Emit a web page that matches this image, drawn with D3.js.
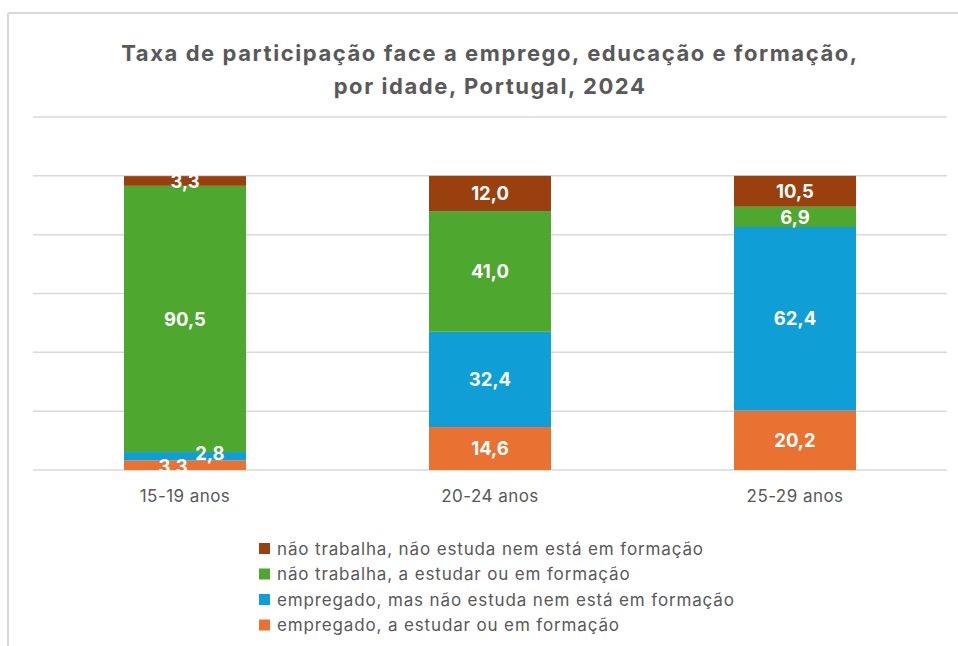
<!DOCTYPE html>
<html>
<head>
<meta charset="utf-8">
<script src="https://cdn.jsdelivr.net/npm/d3@7"></script>
<style>
  html, body { margin: 0; padding: 0; background: #fff; }
  svg { display: block; font-family: Inter, "Open Sans", "Liberation Sans", sans-serif; }
</style>
</head>
<body>
<svg id="chart" width="958" height="646"></svg>
<script>
const categories = ["15-19 anos", "20-24 anos", "25-29 anos"];
const seriesNames = [
  "empregado, a estudar ou em formação",
  "empregado, mas não estuda nem está em formação",
  "não trabalha, a estudar ou em formação",
  "não trabalha, não estuda nem está em formação"
];
const empregadoEstudar = [3.3, 14.6, 20.2];
const empregadoNaoEstuda = [2.8, 32.4, 62.4];
const naoTrabalhaEstudar = [90.5, 41.0, 6.9];
const nemNem = [3.3, 12.0, 10.5];
const yTicks = [0, 20, 40, 60, 80, 100, 120];
const titleLines = ["Taxa de participação face a emprego, educação e formação,", "por idade, Portugal, 2024"];

const seriesValues = [empregadoEstudar, empregadoNaoEstuda, naoTrabalhaEstudar, nemNem];
const colors = ["#E97132", "#0F9ED5", "#4EA72E", "#9A3F0E"];
const textGray = "#595959";

const svg = d3.select("#chart");

// stretch text with letter-spacing so it takes the width of the original's wider typeface
function spacingFor(textSel, target) {
  const node = textSel.node();
  const n = node.getNumberOfChars();
  const w = node.getComputedTextLength();
  return (target - w) / Math.max(1, n - 1);
}

// outer frame (partially visible)
svg.append("line").attr("x1", 8).attr("x2", 958).attr("y1", 13).attr("y2", 13)
  .attr("stroke", "#d9d9d9").attr("stroke-width", 2);
svg.append("line").attr("x1", 8).attr("x2", 8).attr("y1", 13).attr("y2", 646)
  .attr("stroke", "#d9d9d9").attr("stroke-width", 2);

// title
const titleTexts = titleLines.map((t, i) =>
  svg.append("text")
    .attr("x", 490).attr("y", 61 + i * 33)
    .attr("text-anchor", "middle")
    .attr("font-size", 22)
    .attr("font-weight", 700)
    .attr("fill", textGray)
    .text(t)
);
const titleLs = spacingFor(titleTexts[0], 736);
titleTexts.forEach(t => t.attr("letter-spacing", titleLs));

const x = d3.scaleBand().domain(categories).range([32.5, 947.5]).padding(0);
const y = d3.scaleLinear().domain([0, 120]).range([470, 117]);
const barW = x.bandwidth() * 0.4;

// gridlines
svg.append("g").selectAll("line").data(yTicks).join("line")
  .attr("x1", 33).attr("x2", 947)
  .attr("y1", d => y(d)).attr("y2", d => y(d))
  .attr("stroke", "#d9d9d9").attr("stroke-width", 1.5);

// stack
const table = categories.map((c, i) => {
  const o = { cat: c };
  seriesNames.forEach((s, k) => o[s] = seriesValues[k][i]);
  return o;
});
const stacked = d3.stack().keys(seriesNames)(table);

const bars = svg.append("g");
stacked.forEach((layer, k) => {
  bars.append("g").attr("fill", colors[k]).selectAll("rect").data(layer).join("rect")
    .attr("x", d => x(d.data.cat) + (x.bandwidth() - barW) / 2)
    .attr("width", barW)
    .attr("y", d => y(d[1]))
    .attr("height", d => y(d[0]) - y(d[1]));
});

// x axis labels
const xAxis = d3.axisBottom(x).tickSize(0).tickPadding(0);
const xg = svg.append("g").attr("transform", "translate(0,490)").call(xAxis);
xg.select(".domain").remove();
const xt = xg.selectAll("text").attr("font-size", 17).attr("fill", textGray)
  .attr("font-family", "Inter, 'Open Sans', sans-serif");
const axLs = spacingFor(d3.select(xt.nodes()[1]), 97);
xt.attr("letter-spacing", axLs);

// data labels (small segments in first bar are nudged sideways like the original)
const labelNudge = { "0-0": -12, "1-0": 25 };
const fmt = v => d3.format(".1f")(v).replace(".", ",");
const labels = svg.append("g");
stacked.forEach((layer, k) => {
  layer.forEach((d, i) => {
    const nudge = labelNudge[k + "-" + i] || 0;
    const cy = (y(d[0]) + y(d[1])) / 2 + (k === 1 && i === 0 ? -3 : 0) + (k === 0 && i === 0 ? 1.5 : 0);
    labels.append("text")
      .attr("x", x(d.data.cat) + x.bandwidth() / 2 + nudge)
      .attr("y", cy)
      .attr("dy", "0.36em")
      .attr("text-anchor", "middle")
      .attr("font-size", 18.5)
      .attr("font-weight", 700)
      .attr("fill", "#ffffff")
      .text(fmt(d[1] - d[0]));
  });
});

// legend (top entry = last series)
const legendOrder = [3, 2, 1, 0];
const legend = svg.append("g");
const legendTexts = [];
legendOrder.forEach((k, i) => {
  const cy = 548.5 + i * 25.5;
  legend.append("rect").attr("x", 259).attr("y", cy - 5.5).attr("width", 11).attr("height", 11)
    .attr("fill", colors[k]);
  legendTexts.push(legend.append("text").attr("x", 277).attr("y", cy).attr("dy", "0.36em")
    .attr("font-size", 17).attr("fill", textGray)
    .text(seriesNames[k]));
});
const legLs = spacingFor(legendTexts[0], 426);
legendTexts.forEach(t => t.attr("letter-spacing", legLs));
</script>
</body>
</html>
